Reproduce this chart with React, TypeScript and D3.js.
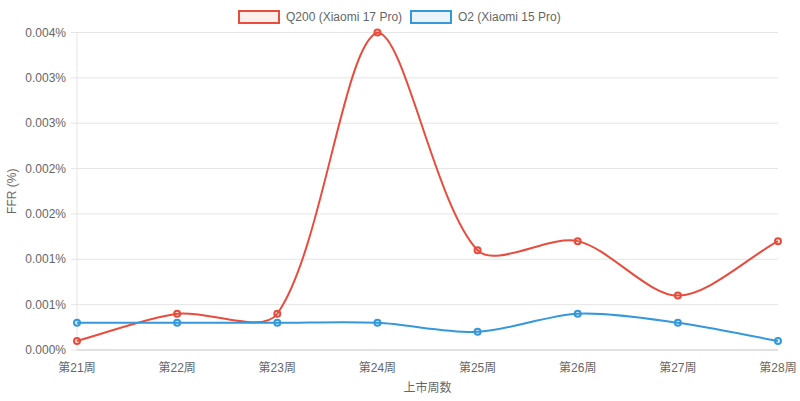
import React from 'react';
import * as d3 from 'd3';

const weeks = ['第21周', '第22周', '第23周', '第24周', '第25周', '第26周', '第27周', '第28周'];
const q200Values = [0.0001, 0.0004, 0.0004, 0.0035, 0.0011, 0.0012, 0.0006, 0.0012];
const o2Values = [0.0003, 0.0003, 0.0003, 0.0003, 0.0002, 0.0004, 0.0003, 0.0001];
const yTicks = [0, 0.0005, 0.001, 0.0015, 0.002, 0.0025, 0.003, 0.0035];
const yTickLabels = ['0.000%', '0.001%', '0.001%', '0.002%', '0.002%', '0.003%', '0.003%', '0.004%'];

const series = [
  { name: 'Q200 (Xiaomi 17 Pro)', values: q200Values, color: '#e74c3c', fill: 'rgba(231,76,60,0.1)' },
  { name: 'O2 (Xiaomi 15 Pro)', values: o2Values, color: '#3498db', fill: 'rgba(52,152,219,0.1)' },
];

const width = 800;
const height = 401;
const area = { left: 77, right: 778, top: 32.5, bottom: 350 };
const font = '"Liberation Sans", Arial, "Noto Sans CJK SC", sans-serif';
const textColor = '#666';

// bezier spline like the chart.js default, clamped to the plot area
function splinePath(pts: [number, number][], tension = 0.3): string {
  const clampX = (v: number) => Math.max(area.left, Math.min(area.right, v));
  const clampY = (v: number) => Math.max(area.top, Math.min(area.bottom, v));
  const cps = pts.map((cur, i) => {
    const prev = pts[i - 1] ?? cur;
    const next = pts[i + 1] ?? cur;
    const d01 = Math.hypot(cur[0] - prev[0], cur[1] - prev[1]);
    const d12 = Math.hypot(next[0] - cur[0], next[1] - cur[1]);
    let s01 = d01 / (d01 + d12);
    let s12 = d12 / (d01 + d12);
    if (isNaN(s01)) s01 = 0;
    if (isNaN(s12)) s12 = 0;
    const fa = tension * s01;
    const fb = tension * s12;
    return {
      prev: [clampX(cur[0] - fa * (next[0] - prev[0])), clampY(cur[1] - fa * (next[1] - prev[1]))],
      next: [clampX(cur[0] + fb * (next[0] - prev[0])), clampY(cur[1] + fb * (next[1] - prev[1]))],
    };
  });
  const p = d3.path();
  p.moveTo(pts[0][0], pts[0][1]);
  for (let i = 1; i < pts.length; i++) {
    p.bezierCurveTo(cps[i - 1].next[0], cps[i - 1].next[1], cps[i].prev[0], cps[i].prev[1], pts[i][0], pts[i][1]);
  }
  return p.toString();
}

const App: React.FC = () => {
  const x = d3.scalePoint<string>().domain(weeks).range([area.left, area.right]).padding(0);
  const y = d3.scaleLinear().domain([0, 0.0035]).range([area.bottom, area.top]);

  return (
    <svg width={width} height={height} style={{ position: 'absolute', left: 0, top: 0 }} fontFamily={font}>
      {/* grid */}
      {yTicks.map((t, i) => (
        <g key={i}>
          <line x1={area.left - 6} x2={area.right} y1={y(t)} y2={y(t)} stroke="#e5e5e5" strokeWidth={1} />
          <text x={area.left - 11} y={y(t)} dy="0.35em" textAnchor="end" fontSize={12} fill={textColor}>
            {yTickLabels[i]}
          </text>
        </g>
      ))}
      <line x1={area.left} x2={area.left} y1={area.top} y2={area.bottom} stroke="#e5e5e5" />
      <line x1={area.left} x2={area.right} y1={area.bottom} y2={area.bottom} stroke="#d0d0d0" />

      {weeks.map((w) => (
        <text key={w} x={x(w)} y={368} dy="0.35em" textAnchor="middle" fontSize={12} fill={textColor}>
          {w}
        </text>
      ))}

      <text x={(area.left + area.right) / 2} y={388} dy="0.35em" textAnchor="middle" fontSize={12} fill={textColor}>
        上市周数
      </text>
      <text
        transform={`translate(12,${(area.top + area.bottom) / 2}) rotate(-90)`}
        dy="0.35em"
        textAnchor="middle"
        fontSize={12}
        fill={textColor}
      >
        FFR (%)
      </text>

      {/* series */}
      {series.map((s) => {
        const pts: [number, number][] = s.values.map((v, i) => [x(weeks[i]) as number, y(v)]);
        return (
          <g key={s.name}>
            <path d={splinePath(pts)} fill="none" stroke={s.color} strokeWidth={2} />
            {pts.map((p, i) => (
              <circle key={i} cx={p[0]} cy={p[1]} r={3} fill={s.fill} stroke={s.color} strokeWidth={2} />
            ))}
          </g>
        );
      })}

      {/* legend */}
      <g>
        <rect x={239} y={11} width={40} height={12} fill={series[0].fill} stroke={series[0].color} strokeWidth={2} />
        <text x={286} y={17} dy="0.35em" fontSize={12} fill={textColor}>
          {series[0].name}
        </text>
        <rect x={411} y={11} width={40} height={12} fill={series[1].fill} stroke={series[1].color} strokeWidth={2} />
        <text x={458} y={17} dy="0.35em" fontSize={12} fill={textColor}>
          {series[1].name}
        </text>
      </g>
    </svg>
  );
};

export default App;
